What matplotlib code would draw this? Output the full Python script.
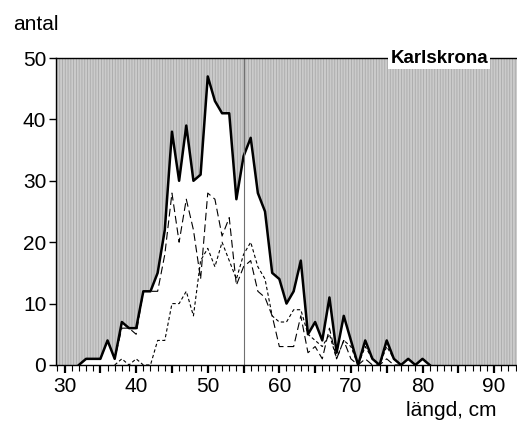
import matplotlib
matplotlib.use("Agg")
import matplotlib.pyplot as plt
from matplotlib.patches import Rectangle
from matplotlib.ticker import MultipleLocator
import numpy as np

plt.rcParams['font.family'] = ['Liberation Sans', 'DejaVu Sans']
plt.rcParams['hatch.linewidth'] = 0.6

# Fish length (cm) and number of fish caught per length class
length_total = list(range(32, 82))
total = [0, 1, 1, 1, 4, 1, 7, 6, 6, 12,
         12, 15, 22, 38, 30, 39, 30, 31, 47, 43,
         41, 41, 27, 34, 37, 28, 25, 15, 14, 10,
         12, 17, 5, 7, 4, 11, 2, 8, 4, 0,
         4, 1, 0, 4, 1, 0, 1, 0, 1, 0]

# long-dashed group
length_a = list(range(32, 78))
group_a = [0, 1, 1, 1, 4, 1, 6, 6, 5, 12,
           12, 12, 18, 28, 20, 27, 22, 14, 28, 27,
           21, 24, 13, 16, 17, 12, 11, 8, 3, 3,
           3, 8, 2, 3, 1, 6, 1, 4, 1, 0,
           1, 0, 0, 1, 0, 0]

# short-dashed group
length_b = list(range(37, 82))
group_b = [0, 1, 0, 1, 0, 0, 4, 4, 10, 10,
           12, 8, 17, 19, 16, 20, 17, 14, 18, 20,
           16, 14, 8, 7, 7, 9, 9, 5, 4, 3,
           5, 1, 4, 3, 0, 3, 1, 0, 3, 1,
           0, 1, 0, 1, 0]

fig = plt.figure(figsize=(5.17, 4.30), dpi=100)
ax = fig.add_axes([0.1083, 0.1512, 0.8917, 0.7139])
ax.set_xlim(28.8, 93.2)
ax.set_ylim(0, 50)

# textured grey background, white area under the total curve
ax.set_facecolor('#cbcbcb')
ax.add_patch(Rectangle((0, 0), 1, 1, transform=ax.transAxes, facecolor='none',
                       edgecolor='#a9a9a9', hatch='||||||', lw=0, zorder=0))
ax.fill_between(length_total, total, 0, color='white', lw=0, zorder=1)

ax.plot(length_a, group_a, color='black', lw=0.8, dashes=(7, 3.5), zorder=3)
ax.plot(length_b, group_b, color='black', lw=0.8, dashes=(3, 2.2), zorder=3)
ax.plot(length_total, total, color='black', lw=1.8, zorder=4)
ax.axvline(55, color='#707070', lw=0.8, zorder=5)

ax.spines['right'].set_visible(False)
for side in ['left', 'bottom', 'top']:
    ax.spines[side].set_linewidth(1.0)
    ax.spines[side].set_zorder(6)

ax.set_xticks(np.arange(30, 95, 5))
ax.set_xticklabels([str(v) if v % 10 == 0 else '' for v in range(30, 95, 5)])
ax.xaxis.set_minor_locator(MultipleLocator(1))
ax.set_yticks(np.arange(0, 51, 10))
ax.tick_params(axis='x', which='major', direction='out', length=6, width=1.6,
               labelsize=15, pad=3)
ax.tick_params(axis='x', which='minor', direction='out', length=4, width=0.8)
ax.tick_params(axis='y', which='major', direction='out', length=5, width=1.0,
               labelsize=15, pad=2)

ax.text(0.831, 1.0, 'Karlskrona', transform=ax.transAxes, ha='center', va='center',
        fontsize=13.5, fontweight='bold', zorder=7,
        bbox=dict(facecolor='white', edgecolor='none', pad=1.5))

fig.text(13 / 517, 1 - 30 / 430, 'antal', ha='left', va='baseline', fontsize=15)
fig.text(497 / 517, 1 - 416 / 430, 'längd, cm', ha='right', va='baseline', fontsize=15)

fig.savefig('out.png', dpi=100)
